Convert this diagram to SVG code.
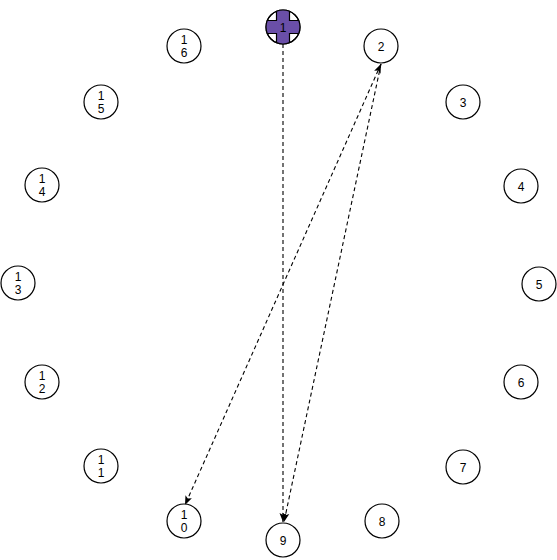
<svg xmlns="http://www.w3.org/2000/svg" width="557" height="560" viewBox="0 0 557 560">
<style>
.n circle{fill:#fff;stroke:#000;stroke-width:1.2}
.n circle.ov{fill:none}
.n text{font-family:"Liberation Sans",Arial,sans-serif;font-size:12px;fill:#000;text-anchor:middle}
.e line{stroke:#000;stroke-width:1.1;stroke-dasharray:4 3;fill:none}
</style>
<defs>
<marker id="ah" markerUnits="userSpaceOnUse" markerWidth="10" markerHeight="8" refX="9" refY="4" orient="auto-start-reverse" viewBox="0 0 10 8">
<path d="M0,0.5 L9,4 L0,7.5 L2,4 Z" fill="#000"/>
</marker>
<clipPath id="c1"><circle cx="283" cy="27" r="17"/></clipPath>
</defs>
<rect width="557" height="560" fill="#fff"/>
<g id="edges" class="e">
<line x1="283" y1="44" x2="283" y2="522" marker-end="url(#ah)"/>
<line x1="381" y1="64" x2="284" y2="522" marker-end="url(#ah)"/>
<line x1="381" y1="64" x2="185" y2="505" marker-start="url(#ah)" marker-end="url(#ah)"/>
</g>
<g id="node1" class="n">
<circle cx="283" cy="27" r="17"/>
<path clip-path="url(#c1)" d="M276.5,9 H289.5 V20.5 H301 V33.5 H289.5 V45 H276.5 V33.5 H265 V20.5 H276.5 Z" fill="#6a4fa8" stroke="#000" stroke-width="1.2"/>
<circle class="ov" cx="283" cy="27" r="17"/>
<text x="283" y="32">1</text>
</g>
<g id="node2" class="n"><circle cx="381" cy="46" r="17"/><text x="381" y="51">2</text></g>
<g id="node3" class="n"><circle cx="463" cy="102" r="17"/><text x="463" y="107">3</text></g>
<g id="node4" class="n"><circle cx="521" cy="186" r="17"/><text x="521" y="191">4</text></g>
<g id="node5" class="n"><circle cx="539" cy="284" r="17"/><text x="539" y="289">5</text></g>
<g id="node6" class="n"><circle cx="521" cy="382" r="17"/><text x="521" y="387">6</text></g>
<g id="node7" class="n"><circle cx="463" cy="467" r="17"/><text x="463" y="472">7</text></g>
<g id="node8" class="n"><circle cx="382" cy="521" r="17"/><text x="382" y="526">8</text></g>
<g id="node9" class="n"><circle cx="283" cy="540" r="17"/><text x="283" y="545">9</text></g>
<g id="node10" class="n"><circle cx="184" cy="521" r="17"/><text x="184" y="519">1</text><text x="184" y="532">0</text></g>
<g id="node11" class="n"><circle cx="101" cy="466" r="17"/><text x="101" y="464">1</text><text x="101" y="477">1</text></g>
<g id="node12" class="n"><circle cx="42" cy="382" r="17"/><text x="42" y="380">1</text><text x="42" y="393">2</text></g>
<g id="node13" class="n"><circle cx="18" cy="283" r="17"/><text x="18" y="281">1</text><text x="18" y="294">3</text></g>
<g id="node14" class="n"><circle cx="42" cy="185" r="17"/><text x="42" y="183">1</text><text x="42" y="196">4</text></g>
<g id="node15" class="n"><circle cx="101" cy="102" r="17"/><text x="101" y="100">1</text><text x="101" y="113">5</text></g>
<g id="node16" class="n"><circle cx="184" cy="46" r="17"/><text x="184" y="44">1</text><text x="184" y="57">6</text></g>
</svg>
